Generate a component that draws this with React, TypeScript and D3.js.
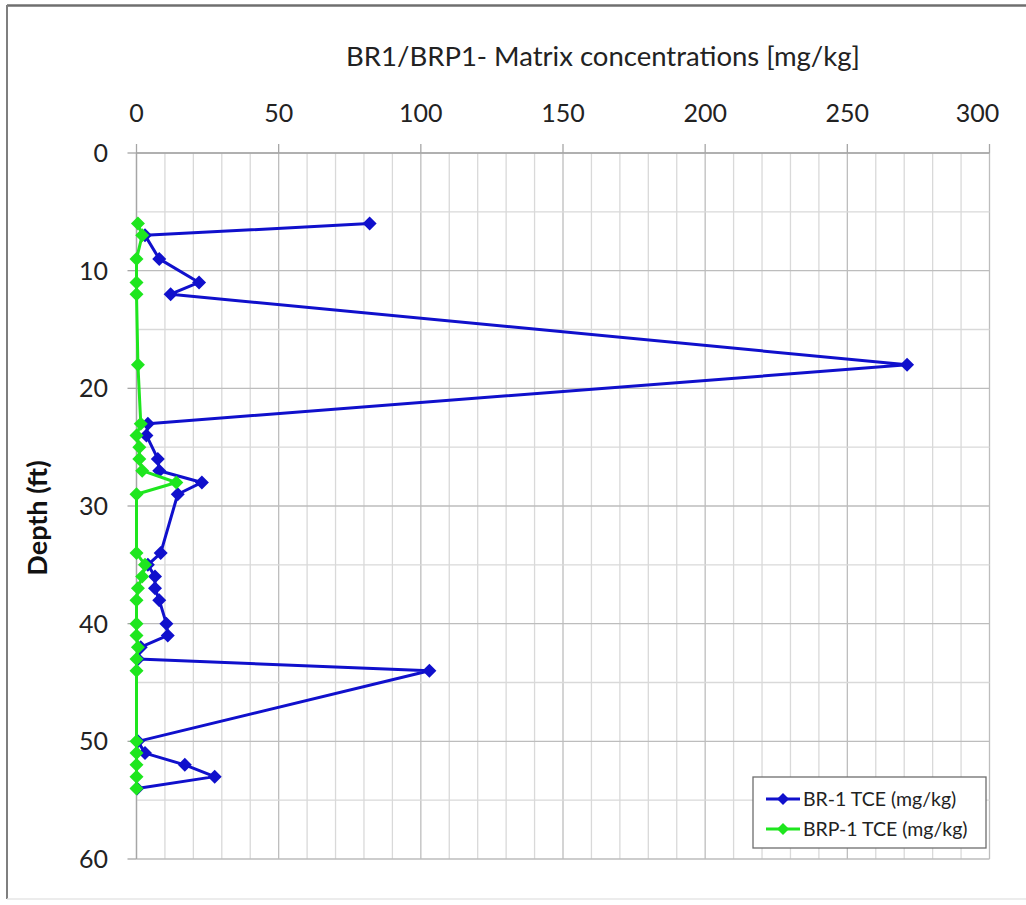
import React from "react";
import * as d3 from "d3";

const br1Depth = [6, 7, 9, 11, 12, 18, 23, 24, 26, 27, 28, 29, 34, 35, 36, 37, 38, 40, 41, 42, 43, 44, 50, 51, 52, 53, 54];
const br1Value = [82, 3, 8, 22, 12, 271, 4, 3.5, 7.5, 8, 23, 14.5, 8.5, 4, 6.5, 6.5, 8, 10.5, 11, 1.5, 0.5, 103, 0.5, 3, 17, 27.5, 0.2];

const brp1Depth = [6, 7, 9, 11, 12, 18, 23, 24, 25, 26, 27, 28, 29, 34, 35, 36, 37, 38, 40, 41, 42, 43, 44, 50, 51, 52, 53, 54];
const brp1Value = [0.5, 2, 0, 0, 0, 0.5, 1.5, 0, 1, 1, 2, 14, 0, 0, 3, 2, 0.5, 0, 0, 0, 0.5, 0, 0, 0, 0, 0, 0, 0];

const xTicks = [0, 50, 100, 150, 200, 250, 300];
const yTicks = [0, 10, 20, 30, 40, 50, 60];

const seriesNames = ["BR-1 TCE (mg/kg)", "BRP-1 TCE (mg/kg)"];
const seriesColors = ["#1010cc", "#1ee61e"];

const FONT = "Lato, 'Open Sans', sans-serif";

export default function App() {
  const W = 1026, H = 905;
  const x = d3.scaleLinear().domain([0, 300]).range([136.5, 989.5]);
  const y = d3.scaleLinear().domain([0, 60]).range([153, 859]);

  const minorX = d3.range(0, 301, 10);
  const minorY = d3.range(0, 61, 5);

  const line = d3.line<[number, number]>().x(d => x(d[0])).y(d => y(d[1]));
  const br1: [number, number][] = br1Depth.map((d, i) => [br1Value[i], d]);
  const brp1: [number, number][] = brp1Depth.map((d, i) => [brp1Value[i], d]);
  const diamond = (cx: number, cy: number, r = 7) =>
    `M${cx},${cy - r}L${cx + r},${cy}L${cx},${cy + r}L${cx - r},${cy}Z`;

  const series = [br1, brp1];

  return (
    <svg width={W} height={H} style={{ position: "absolute", left: 0, top: 0 }}>
      <rect x={0} y={0} width={W} height={H} fill="#fff" />
      {/* outer border */}
      <line x1={7} y1={5.5} x2={W} y2={5.5} stroke="#6f6f6f" strokeWidth={2.5} />
      <line x1={7} y1={5} x2={7} y2={899} stroke="#7f7f7f" strokeWidth={2} />
      <line x1={7} y1={899} x2={W} y2={899} stroke="#e6e6e6" strokeWidth={1.5} />

      <text x={603} y={66} textAnchor="middle" fontFamily={FONT} fontSize={27.5} fill="#222">
        BR1/BRP1- Matrix concentrations [mg/kg]
      </text>

      {/* grid */}
      {minorX.map(v => (
        <line key={"gx" + v} x1={x(v)} x2={x(v)} y1={y(0)} y2={y(60)}
          stroke={v % 50 === 0 ? "#bdbdbd" : "#d9d9d9"} strokeWidth={1.3} />
      ))}
      {minorY.map(v => (
        <line key={"gy" + v} x1={x(0)} x2={x(300)} y1={y(v)} y2={y(v)}
          stroke={v % 10 === 0 ? "#bdbdbd" : "#d9d9d9"} strokeWidth={1.3} />
      ))}

      {/* axes */}
      <line x1={x(0)} x2={x(300)} y1={y(0)} y2={y(0)} stroke="#a6a6a6" strokeWidth={1.3} />
      <line x1={x(0)} x2={x(0)} y1={y(0)} y2={y(60)} stroke="#a6a6a6" strokeWidth={1.3} />
      {xTicks.map((v, i) => (
        <g key={"xt" + v}>
          <line x1={x(v)} x2={x(v)} y1={y(0) - 9} y2={y(0)} stroke="#a6a6a6" strokeWidth={1.3} />
          <text x={i === xTicks.length - 1 ? x(v) - 12 : x(v)} y={122} textAnchor="middle"
            fontFamily={FONT} fontSize={25} fill="#222">{v}</text>
        </g>
      ))}
      {yTicks.map(v => (
        <g key={"yt" + v}>
          <line x1={x(0) - 9} x2={x(0)} y1={y(v)} y2={y(v)} stroke="#a6a6a6" strokeWidth={1.3} />
          <text x={108} y={y(v) + 9} textAnchor="end" fontFamily={FONT} fontSize={25} fill="#222">{v}</text>
        </g>
      ))}
      <text transform={`translate(47,518) rotate(-90)`} textAnchor="middle" fontFamily={FONT}
        fontWeight="bold" fontSize={27} fill="#111">Depth (ft)</text>

      {/* series */}
      {series.map((s, si) => (
        <g key={"s" + si}>
          <path d={line(s) || ""} fill="none" stroke={seriesColors[si]} strokeWidth={3} strokeLinejoin="round" />
          {s.map((p, i) => (
            <path key={i} d={diamond(x(p[0]), y(p[1]))} fill={seriesColors[si]} />
          ))}
        </g>
      ))}

      {/* legend */}
      <rect x={753} y={777} width={233} height={71} fill="#fff" stroke="#6e6e6e" strokeWidth={1.3} />
      {seriesNames.map((n, i) => {
        const ly = 799 + i * 30;
        return (
          <g key={"lg" + i}>
            <line x1={766} x2={800} y1={ly} y2={ly} stroke={seriesColors[i]} strokeWidth={3} />
            <path d={diamond(783, ly, 6)} fill={seriesColors[i]} />
            <text x={803} y={ly + 7} fontFamily={FONT} fontSize={19.5} fill="#222">{n}</text>
          </g>
        );
      })}
    </svg>
  );
}
